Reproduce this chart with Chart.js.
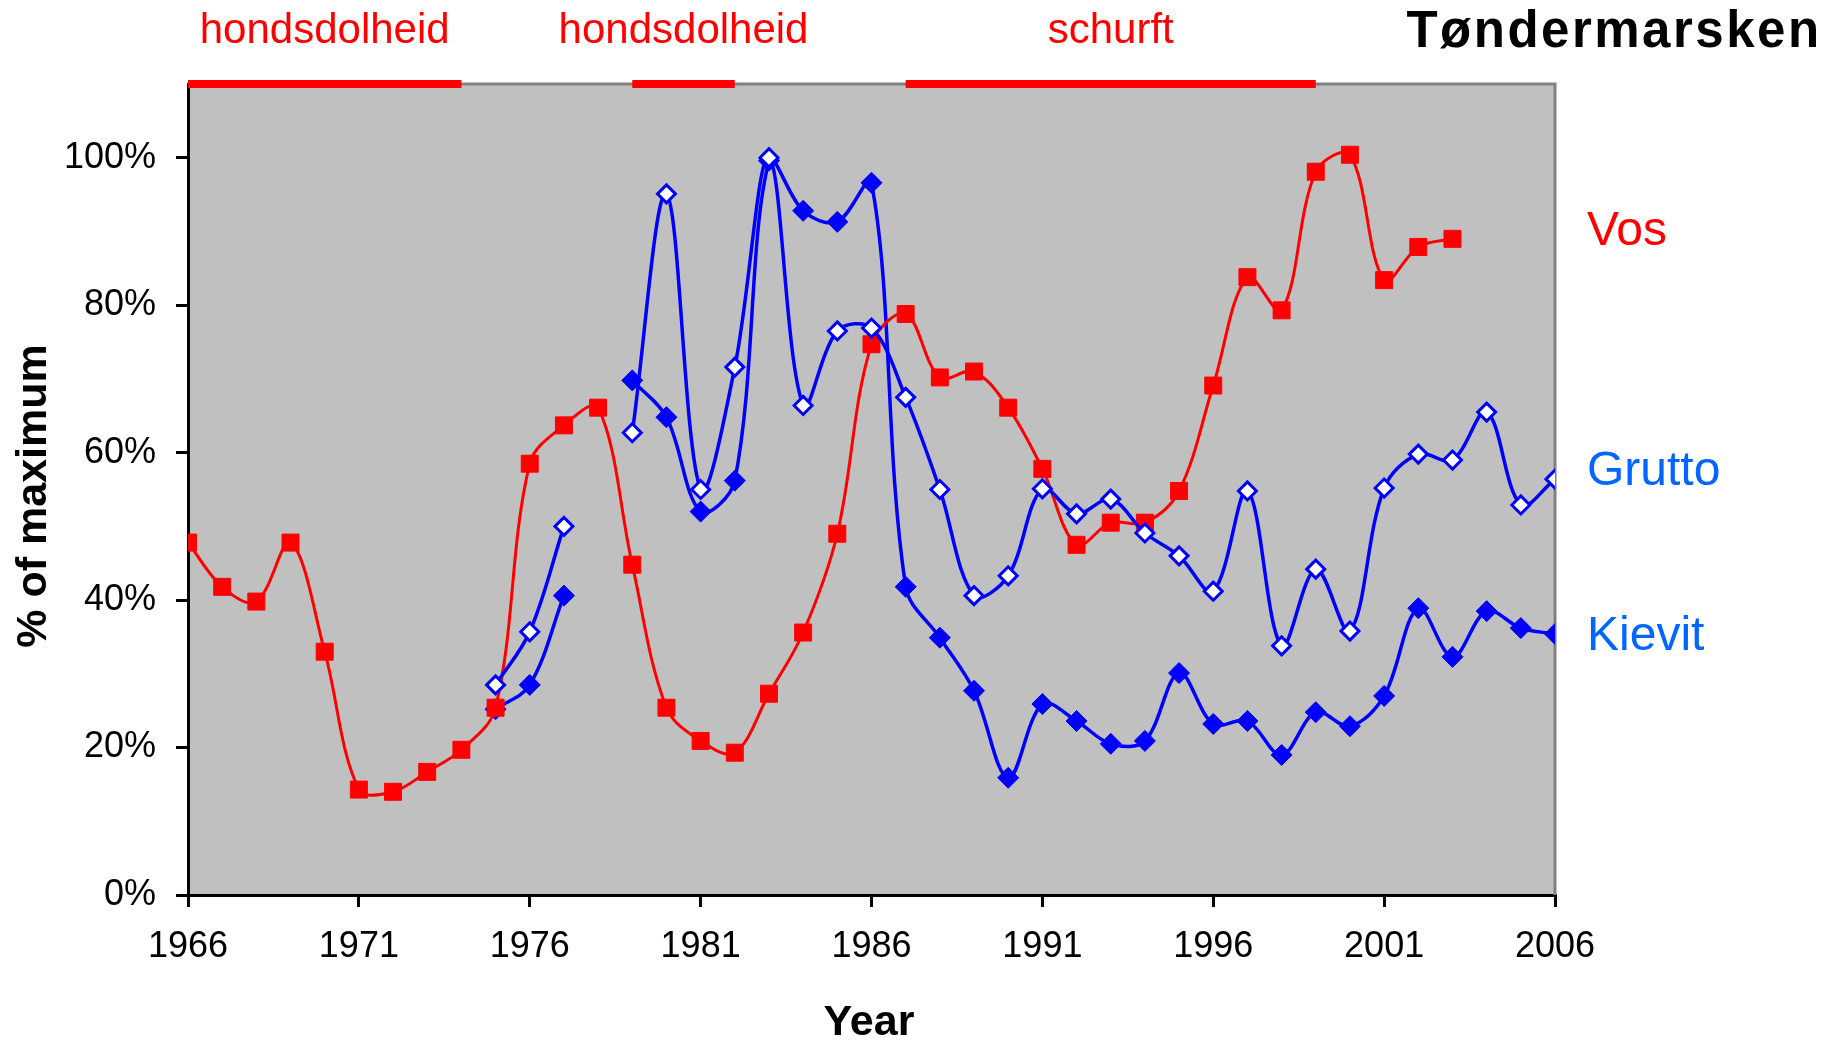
<!DOCTYPE html>
<html>
<head>
<meta charset="utf-8">
<title>Tøndermarsken</title>
<script src="https://cdn.jsdelivr.net/npm/chart.js@4"></script>
<style>
  html, body { margin: 0; padding: 0; background: #fff; }
</style>
</head>
<body>
<canvas id="chart" width="1835" height="1040"></canvas>
<script>
//------------------------------------------- Data -------------------------------------------//
const years = [1966, 1967, 1968, 1969, 1970, 1971, 1972, 1973, 1974, 1975,
               1976, 1977, 1978, 1979, 1980, 1981, 1982, 1983, 1984, 1985,
               1986, 1987, 1988, 1989, 1990, 1991, 1992, 1993, 1994, 1995,
               1996, 1997, 1998, 1999, 2000, 2001, 2002, 2003, 2004, 2005, 2006];

// % of maximum, one value per year (null = no count)
const vos = [47.8, 41.8, 39.8, 47.8, 33.0, 14.3, 14.0, 16.7, 19.7, 25.4,
             58.5, 63.7, 66.1, 44.8, 25.4, 20.9, 19.3, 27.3, 35.6, 49.0,
             74.7, 78.8, 70.2, 71.0, 66.1, 57.8, 47.5, 50.5, 50.5, 54.8,
             69.1, 83.8, 79.3, 98.1, 100.4, 83.4, 87.9, 89.0, null, null, null];

const grutto = [null, null, null, null, null, null, null, null, null, 28.5,
                35.7, 50.0, null, 62.7, 95.1, 55.0, 71.6, 100.0, 66.4, 76.5,
                76.9, 67.5, 55.0, 40.6, 43.3, 55.1, 51.7, 53.7, 49.1, 46.0,
                41.2, 54.8, 33.8, 44.2, 35.8, 55.2, 59.8, 59.0, 65.5, 52.9, 56.4];

const kievit = [null, null, null, null, null, null, null, null, null, 25.2,
                28.5, 40.6, null, 69.8, 64.8, 52.0, 56.2, 99.6, 92.8, 91.3,
                96.6, 41.8, 34.9, 27.7, 15.9, 25.9, 23.6, 20.5, 20.9, 30.1,
                23.2, 23.6, 19.0, 24.8, 22.9, 27.0, 38.9, 32.3, 38.5, 36.2, 35.4];

// disease periods shown as red bars along the top
const periodLabels = ['hondsdolheid', 'hondsdolheid', 'schurft'];
const periodStart = [1966, 1979, 1987];
const periodEnd = [1974, 1982, 1999];
const periodLevel = 110;

const xTicks = [1966, 1971, 1976, 1981, 1986, 1991, 1996, 2001, 2006];
const yTicks = [0, 20, 40, 60, 80, 100];

//------------------------------------------- Settings -------------------------------------------//
const RED = '#ff0000';
const BLUE = '#0000ff';
const LABEL_BLUE = '#0066ff';
const FONT = '"Liberation Sans", Arial, sans-serif';

function toPoints(vals) {
    return years.map((yr, i) => ({x: yr, y: vals[i]}));
}

var periodSets = periodLabels.map((lbl, i) => ({
    label: lbl,
    data: [{x: periodStart[i], y: periodLevel}, {x: periodEnd[i], y: periodLevel}],
    borderColor: RED,
    borderWidth: 8,
    borderCapStyle: 'butt',
    pointRadius: 0,
    tension: 0,
    clip: false
}));

// Background, frame and all the free text
const decorations = {
    id: 'decorations',
    beforeDraw(chart) {
        const {ctx, chartArea: a} = chart;
        ctx.save();
        ctx.fillStyle = '#c0c0c0';
        ctx.fillRect(a.left, a.top, a.right - a.left, a.bottom - a.top);
        ctx.restore();
    },
    beforeDatasetsDraw(chart) {
        const {ctx, chartArea: a} = chart;
        ctx.save();
        ctx.strokeStyle = '#808080';
        ctx.lineWidth = 3;
        ctx.beginPath();
        ctx.moveTo(a.left, a.top);
        ctx.lineTo(a.right, a.top);
        ctx.lineTo(a.right, a.bottom);
        ctx.stroke();
        ctx.restore();
    },
    afterDraw(chart) {
        const ctx = chart.ctx;
        const xs = chart.scales.x;
        ctx.save();
        ctx.textBaseline = 'alphabetic';

        // title
        ctx.fillStyle = '#000';
        ctx.font = 'bold 51px ' + FONT;
        ctx.letterSpacing = '2.5px';
        ctx.textAlign = 'center';
        ctx.fillText('Tøndermarsken', 1614, 47);
        ctx.letterSpacing = '0px';

        // period labels
        ctx.fillStyle = RED;
        ctx.font = '42px ' + FONT;
        periodLabels.forEach((lbl, i) => {
            const cx = xs.getPixelForValue((periodStart[i] + periodEnd[i]) / 2);
            ctx.fillText(lbl, cx, 43);
        });

        // series names on the right
        ctx.textAlign = 'left';
        ctx.font = '48px ' + FONT;
        ctx.fillStyle = RED;
        ctx.fillText('Vos', 1587, 245);
        ctx.fillStyle = LABEL_BLUE;
        ctx.fillText('Grutto', 1587, 485);
        ctx.fillText('Kievit', 1587, 650);

        // axis titles
        ctx.fillStyle = '#000';
        ctx.font = 'bold 43px ' + FONT;
        ctx.textAlign = 'center';
        ctx.fillText('Year', 869, 1035);
        ctx.translate(46, 496);
        ctx.rotate(-Math.PI / 2);
        ctx.fillText('% of maximum', 0, 0);
        ctx.restore();
    }
};

//------------------------------------------- Chart -------------------------------------------//
var ctx = document.getElementById('chart');
var chart = new Chart(ctx, {
    type: 'line',
    data: {
        datasets: [
            {
                label: 'Grutto',
                data: toPoints(grutto),
                borderColor: BLUE,
                borderWidth: 3.5,
                pointStyle: 'rectRot',
                pointRadius: 9,
                pointBackgroundColor: '#ffffff',
                pointBorderColor: BLUE,
                pointBorderWidth: 3,
                tension: 0.35,
                spanGaps: false
            },
            {
                label: 'Vos',
                data: toPoints(vos),
                borderColor: RED,
                borderWidth: 3,
                pointStyle: 'rect',
                pointRadius: 12,
                pointBackgroundColor: RED,
                pointBorderColor: RED,
                pointBorderWidth: 1,
                tension: 0.35,
                spanGaps: false
            },
            {
                label: 'Kievit',
                data: toPoints(kievit),
                borderColor: BLUE,
                borderWidth: 3.5,
                pointStyle: 'rectRot',
                pointRadius: 10.5,
                pointBackgroundColor: BLUE,
                pointBorderColor: BLUE,
                pointBorderWidth: 1,
                tension: 0.35,
                spanGaps: false
            },
            ...periodSets
        ]
    },
    options: {
        responsive: false,
        animation: false,
        layout: {
            padding: {top: 84, right: 280, left: 0, bottom: 0}
        },
        plugins: {
            legend: {display: false},
            tooltip: {enabled: false}
        },
        scales: {
            x: {
                type: 'linear',
                min: 1966,
                max: 2006,
                afterBuildTicks: s => { s.ticks = xTicks.map(v => ({value: v})); },
                afterFit: s => { s.height = 145; },
                ticks: {
                    color: '#000',
                    font: {family: FONT, size: 36},
                    padding: 18,
                    maxRotation: 0,
                    autoSkip: false,
                    callback: v => String(v)
                },
                grid: {
                    drawOnChartArea: false,
                    drawTicks: true,
                    tickLength: 12,
                    color: '#000',
                    lineWidth: 3
                },
                border: {display: true, color: '#000', width: 3}
            },
            y: {
                min: 0,
                max: 110,
                afterBuildTicks: s => { s.ticks = yTicks.map(v => ({value: v})); },
                afterFit: s => { s.width = 188; },
                ticks: {
                    color: '#000',
                    font: {family: FONT, size: 36},
                    padding: 20,
                    callback: v => v + '%'
                },
                grid: {
                    drawOnChartArea: false,
                    drawTicks: true,
                    tickLength: 12,
                    color: '#000',
                    lineWidth: 3
                },
                border: {display: true, color: '#000', width: 3}
            }
        }
    },
    plugins: [decorations]
});
</script>
</body>
</html>
